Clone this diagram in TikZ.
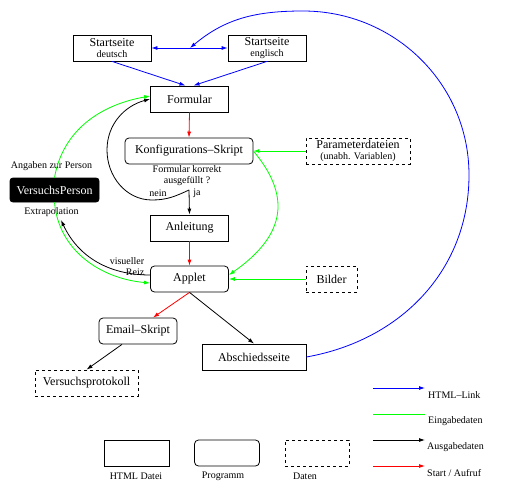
\documentclass[tikz,border=0pt]{standalone}
\usepackage{fontspec}
\setmainfont{Liberation Serif}
\usetikzlibrary{arrows.meta}

\begin{document}
\begin{tikzpicture}[x=1pt, y=1pt, >={Latex[length=6pt,width=4pt]},
    every node/.style={font=\fontsize{12}{11}\selectfont, inner sep=0pt},
    html/.style={draw, line width=0.8pt, minimum width=78pt, minimum height=26pt, align=center},
    prog/.style={draw, line width=0.8pt, rounded corners=4pt, minimum width=78pt, minimum height=26pt},
    data/.style={draw, line width=0.8pt, dashed, minimum height=26pt, align=center},
    lbl/.style={font=\fontsize{10}{11}\selectfont, align=center},
    htmllink/.style={draw=blue, line width=0.8pt},
    eingabe/.style={draw=green, line width=0.8pt},
    ausgabe/.style={draw=black, line width=0.8pt},
    aufruf/.style={draw=red, line width=0.8pt}]
    \useasboundingbox (0,0) rectangle (506,-495);

    % Seiten und Programme
    \node[html] (deu) at (112,-48) {Startseite\\{\fontsize{10}{10}\selectfont deutsch}};
    \node[html] (eng) at (267,-48) {Startseite\\{\fontsize{10}{10}\selectfont englisch}};
    \node[html] (form) at (189.5,-99) {Formular};
    \node[prog, minimum width=128pt] (konf) at (189,-151) {Konfigurations\textendash Skript};
    \node[data, minimum width=104pt] (param) at (358,-151)
      {Parameterdateien\\{\fontsize{10}{10}\selectfont (unabh. Variablen)}};
    \node[lbl] (frage) at (187,-176) {Formular korrekt\\ausgefüllt ?};
    \node[lbl] (nein) at (158,-193) {nein};
    \node[lbl] (ja) at (197,-193) {ja};
    \coordinate (jn) at (189,-190);
    \coordinate (bogen) at (152,-200);
    \coordinate (links) at (107,-150);
    \node[html] (anl) at (189.5,-228) {Anleitung};
    \node[prog, rounded corners=3pt, fill=black, text=white, minimum width=89pt, minimum height=24pt] (vp)
      at (54.5,-190) {VersuchsPerson};
    \node[lbl] (angaben) at (51.5,-166) {Angaben zur Person};
    \node[lbl] (extra) at (51.5,-212) {Extrapolation};
    \coordinate (exin) at (61,-220);
    \node[prog] (applet) at (189.5,-279) {Applet};
    \node[data, minimum width=51pt] (bilder) at (331.5,-279) {Bilder};
    \node[lbl, align=right] (reiz) at (127,-266.5) {visueller\\Reiz};
    \node[prog] (email) at (138,-331) {Email\textendash Skript};
    \node[html, minimum width=104pt] (absch) at (254,-357) {Abschiedsseite};
    \node[data, minimum width=103pt] (vprot) at (86.5,-383) {Versuchsprotokoll};

    % HTML-Links
    \coordinate (hub) at (190,-48);
    \coordinate (far) at (469,-175);
    \coordinate (top) at (303,-11);
    \draw[htmllink, <->] (deu.east) -- (eng.west);
    \draw[htmllink, ->] (deu.south) -- ([xshift=-4pt]form.north);
    \draw[htmllink, ->] (eng.south) -- ([xshift=4pt]form.north);
    \draw[htmllink, ->] (absch.east) to[out=10,in=-90] (far) to[out=90,in=0] (top)
      to[out=180,in=40] (hub);

    % Aufrufe
    \draw[aufruf, ->] (form.south) -- (konf.north);
    \draw[aufruf, ->] (anl.south) -- (applet.north);
    \draw[aufruf, ->] (applet.south) -- ([xshift=15pt]email.north);

    % Ausgabedaten
    \draw[ausgabe, ->] (jn) -- (anl.north);
    \draw[ausgabe, ->] (jn) to[out=205,in=0] (bogen) to[out=180,in=-90] (links)
      to[out=90,in=195] (form.west);
    \draw[ausgabe, ->] (applet.south) -- (absch.north);
    \draw[ausgabe, ->] ([xshift=-16pt]email.south) -- (vprot.north);
    \draw[ausgabe, ->] ([yshift=4pt]applet.west) to[out=180,in=-65] (exin);

    % Eingabedaten
    \draw[eingabe, ->] (param.west) -- (konf.east);
    \draw[eingabe, ->] (konf.east) to[out=-50,in=35,looseness=1.3] ([yshift=4pt]applet.east);
    \draw[eingabe, ->] (bilder.west) -- (applet.east);
    \draw[eingabe, ->] (vp.north) to[out=80,in=190] ([yshift=3pt]form.west);
    \draw[eingabe, ->] (vp.south) to[out=-85,in=175] ([yshift=-4pt]applet.west);

    % Legende
    \node[html, minimum width=65pt] (lhtml) at (136.5,-453) {};
    \node[prog, minimum width=65pt] (lprog) at (227,-453) {};
    \node[data, minimum width=64pt] (ldata) at (317,-453) {};
    \node[lbl] (thtml) at (136,-476) {HTML Datei};
    \node[lbl] (tprog) at (223,-476) {Programm};
    \node[lbl] (tdata) at (305,-476) {Daten};

    \coordinate (l1a) at (373,-388);
    \coordinate (l1b) at (425,-388);
    \coordinate (l2a) at (373,-414);
    \coordinate (l2b) at (425,-414);
    \coordinate (l3a) at (373,-440);
    \coordinate (l3b) at (425,-440);
    \coordinate (l4a) at (373,-466);
    \coordinate (l4b) at (425,-466);
    \draw[htmllink, ->] (l1a) -- (l1b);
    \draw[eingabe] (l2a) -- (l2b);
    \draw[ausgabe, ->] (l3a) -- (l3b);
    \draw[aufruf, ->] (l4a) -- (l4b);
    \node[lbl, anchor=west] (tlink) at (428,-395) {HTML\textendash Link};
    \node[lbl, anchor=west] (tein) at (428,-421) {Eingabedaten};
    \node[lbl, anchor=west] (taus) at (427,-447) {Ausgabedaten};
    \node[lbl, anchor=west] (tauf) at (427,-473) {Start / Aufruf};
\end{tikzpicture}
\end{document}
